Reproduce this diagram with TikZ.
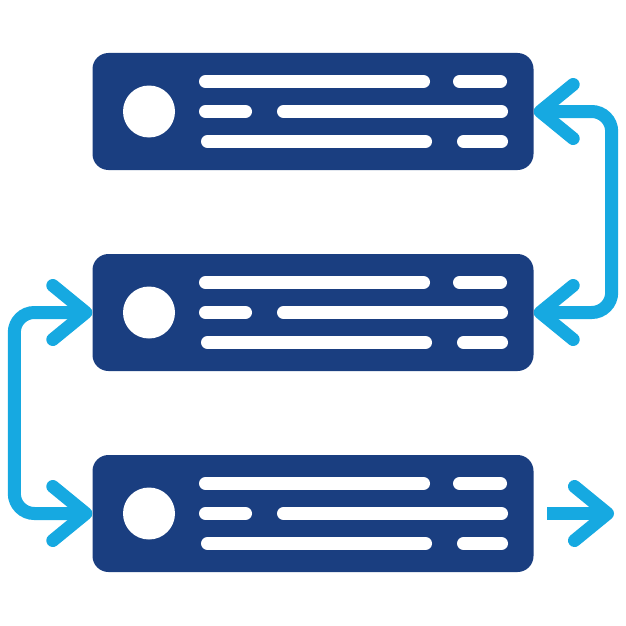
\documentclass[tikz,border=0pt]{standalone}
\usetikzlibrary{arrows.meta}

\definecolor{navy}{HTML}{1A3E80}
\definecolor{skyblue}{HTML}{16A9E1}

\tikzset{
    server/.style={fill=navy, rounded corners=16pt, minimum width=441pt,
        minimum height=117pt, inner sep=0pt},
    bar/.style={white, line width=13pt, line cap=round},
    link/.style={skyblue, line width=13pt, rounded corners=20pt,
        arrows={Straight Barb[length=33pt, width=54pt, line cap=round, line join=round]-Straight Barb[length=33pt, width=54pt, line cap=round, line join=round]}},
    outlink/.style={skyblue, line width=13pt,
        arrows={-Straight Barb[length=33pt, width=54pt, line cap=round, line join=round]}}
}

\begin{document}
\begin{tikzpicture}[x=1pt, y=-1pt]

    % Canvas
    \useasboundingbox (0,0) rectangle (626,626);

    % The three server boxes
    \node[server] (s1) at (313,111.5) {};
    \node[server] (s2) at (313,312.5) {};
    \node[server] (s3) at (313,513.5) {};

    % Circle and bars inside each box
    \foreach \s in {s1,s2,s3} {
        \begin{scope}[shift={(\s.center)}]
            \fill[white] (-164,0) circle[radius=26];
            % top row
            \draw[bar] (-107.5,-30) -- (110.5,-30);
            \draw[bar] (146.5,-30) -- (187.5,-30);
            % middle row
            \draw[bar] (-107.5,0) -- (-67.5,0);
            \draw[bar] (-29.5,0) -- (188.5,0);
            % bottom row
            \draw[bar] (-105.5,30) -- (112.5,30);
            \draw[bar] (150.5,30) -- (188.5,30);
        \end{scope}
    }

    % Connectors between the boxes
    \draw[link] (s1.east) -- ++(78,0) |- (s2.east);
    \draw[link] (s2.west) -- ++(-78,0) |- (s3.west);

    % Outgoing arrow
    \coordinate (o1) at (547,513.5);
    \coordinate (o2) at (614,513.5);
    \draw[outlink] (o1) -- (o2);

\end{tikzpicture}
\end{document}
